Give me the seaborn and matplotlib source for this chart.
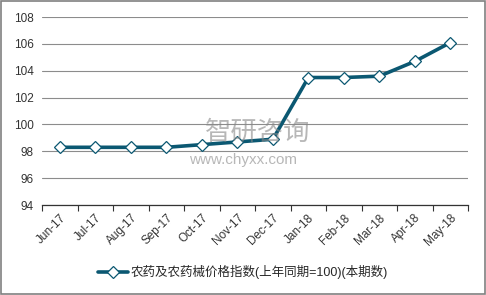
import matplotlib
matplotlib.use("Agg")
import matplotlib.pyplot as plt
import seaborn as sns
import pandas as pd
import numpy as np
from matplotlib.ticker import FixedLocator

months = ["Jun-17", "Jul-17", "Aug-17", "Sep-17", "Oct-17", "Nov-17", "Dec-17",
          "Jan-18", "Feb-18", "Mar-18", "Apr-18", "May-18"]
values = [98.3, 98.3, 98.3, 98.3, 98.5, 98.7, 98.9, 103.5, 103.5, 103.6, 104.7, 106.1]
series_name = "农药及农药械价格指数(上年同期=100)(本期数)"
yticks = [94, 96, 98, 100, 102, 104, 106, 108]

sns.set_theme(style="white")
plt.rcParams['font.family'] = ['Liberation Sans', 'Noto Sans CJK SC', 'DejaVu Sans']

df = pd.DataFrame({"month": months, "value": values})
line_color = "#0B5872"

fig = plt.figure(figsize=(4.86, 2.95), dpi=100)
ax = fig.add_axes([0.087, 0.305, 0.876, 0.637])

sns.lineplot(data=df, x="month", y="value", sort=False, ax=ax, color=line_color,
             linewidth=2.6, marker="D", markersize=6.5, markerfacecolor="white",
             markeredgecolor=line_color, markeredgewidth=0.9, label=series_name)

ax.set_xlim(-0.5, len(months) - 0.5)
ax.set_ylim(94, 108)
ax.set_yticks(yticks)
ax.set_yticklabels([str(v) for v in yticks], fontsize=8.5, color="#333333")
ax.yaxis.grid(True, color="#8c8c8c", linewidth=0.8)
ax.set_axisbelow(True)
ax.tick_params(axis="y", length=0, pad=6)

ax.set_xticks(range(len(months)))
ax.set_xticklabels(months, rotation=45, ha="right", rotation_mode="anchor",
                   fontsize=8.5, color="#333333")
ax.tick_params(axis="x", which="major", length=0, pad=5)
ax.xaxis.set_minor_locator(FixedLocator(np.arange(-0.5, len(months), 1.0)))
ax.tick_params(axis="x", which="minor", length=4, color="#333333", width=0.8,
               direction="out", bottom=True)
ax.set_xlabel("")
ax.set_ylabel("")
for s in ["top", "right", "left"]:
    ax.spines[s].set_visible(False)
ax.spines["bottom"].set_color("#333333")
ax.spines["bottom"].set_linewidth(0.9)

ax.legend_.remove()
handles, labels = ax.get_legend_handles_labels()
fig.legend(handles, labels, loc="center", bbox_to_anchor=(0.5, 0.078), frameon=False,
           fontsize=9, handlelength=2.4, handletextpad=0.2)

# watermark
fig.text(0.53, 0.55, "智研咨询", fontsize=19, color="#888888", alpha=0.6,
         ha="center", va="center", family=["Noto Sans CJK SC"])
fig.text(0.50, 0.458, "www.chyxx.com", fontsize=11, color="#888888", alpha=0.6,
         ha="center", va="center")

# outer border
fig.patches.append(plt.Rectangle((0.003, 0.003), 0.994, 0.994, transform=fig.transFigure,
                                 fill=False, edgecolor="#808080", linewidth=1.2))

fig.savefig("out.png", dpi=100)
